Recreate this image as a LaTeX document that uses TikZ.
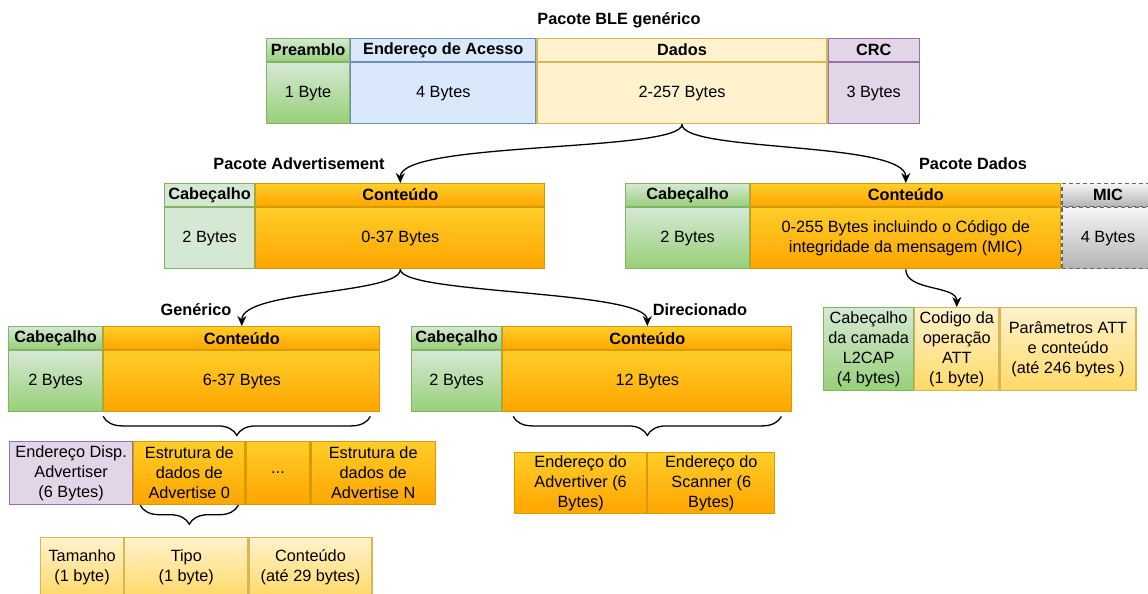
\documentclass[tikz,border=0pt]{standalone}
\usepackage{fontspec}
\setmainfont{Liberation Sans}
\usetikzlibrary{positioning,arrows.meta,decorations.pathreplacing}

\definecolor{verdeA}{HTML}{D5E8D4}
\definecolor{verdeB}{HTML}{97D077}
\definecolor{verdeL}{HTML}{82B366}
\definecolor{azulA}{HTML}{DAE8FC}
\definecolor{azulL}{HTML}{6C8EBF}
\definecolor{amarA}{HTML}{FFF2CC}
\definecolor{amarB}{HTML}{FFD966}
\definecolor{amarL}{HTML}{D6B656}
\definecolor{roxoA}{HTML}{E1D5E7}
\definecolor{roxoL}{HTML}{9673A6}
\definecolor{larA}{HTML}{FFCD28}
\definecolor{larB}{HTML}{FFA500}
\definecolor{larL}{HTML}{D79B00}
\definecolor{cinzaA}{HTML}{F5F5F5}
\definecolor{cinzaB}{HTML}{B3B3B3}
\definecolor{cinzaL}{HTML}{666666}

\begin{document}
\begin{tikzpicture}[
    x=1pt, y=-1pt,
    font=\fontsize{16.3}{20}\selectfont,
    campo/.style = {draw, rectangle, inner sep=1pt, align=center, line width=1.2pt},
    cab/.style = {campo, minimum height=23pt, font=\fontsize{16.3}{20}\selectfont\bfseries},
    corpo/.style = {campo, minimum height=61pt},
    titulo/.style = {font=\fontsize{16.3}{20}\selectfont\bfseries, inner sep=1pt},
    verde/.style = {draw=verdeL, top color=verdeA, bottom color=verdeB},
    verdeclaro/.style = {draw=verdeL, fill=verdeA},
    azul/.style = {draw=azulL, fill=azulA},
    amarelo/.style = {draw=amarL, fill=amarA},
    creme/.style = {draw=amarL, top color=amarA, bottom color=amarB},
    roxo/.style = {draw=roxoL, fill=roxoA},
    laranja/.style = {draw=larL, top color=larA, bottom color=larB},
    cinza/.style = {draw=cinzaL, top color=cinzaA, bottom color=cinzaB, dash pattern=on 4pt off 3pt},
    seta/.style = {-{Stealth[length=10pt, width=9pt]}, line width=1.3pt},
    chave/.style = {decorate, decoration={brace, mirror, amplitude=19pt}, line width=1.3pt}
]
    \useasboundingbox (0,0) rectangle (1148,594);

    % --- Pacote BLE generico ---
    \node[titulo] (tBLE) at (619,20) {Pacote BLE genérico};
    \node[cab, verde, minimum width=83pt, anchor=north west] (preC) at (266,38) {Preamblo};
    \node[cab, azul, minimum width=185pt, right=0pt of preC] (aceC) {Endereço de Acesso};
    \node[cab, amarelo, minimum width=290pt, right=0pt of aceC] (dadC) {Dados};
    \node[cab, roxo, minimum width=91pt, right=0pt of dadC] (crcC) {CRC};
    \node[corpo, verde, minimum width=83pt, below=0pt of preC] (preB) {1 Byte};
    \node[corpo, azul, minimum width=185pt, below=0pt of aceC] (aceB) {4 Bytes};
    \node[corpo, amarelo, minimum width=290pt, below=0pt of dadC] (dadB) {2-257 Bytes};
    \node[corpo, roxo, minimum width=91pt, below=0pt of crcC] (crcB) {3 Bytes};

    % --- Pacote Advertisement ---
    \node[titulo] (tAdv) at (299,164) {Pacote Advertisement};
    \node[cab, verdeclaro, minimum width=90pt, anchor=north west] (advH1) at (164,183) {Cabeçalho};
    \node[cab, laranja, minimum width=289pt, right=0pt of advH1] (advH2) {Conteúdo};
    \node[corpo, verdeclaro, minimum width=90pt, below=0pt of advH1] (advB1) {2 Bytes};
    \node[corpo, laranja, minimum width=289pt, below=0pt of advH2] (advB2) {0-37 Bytes};

    % --- Pacote Dados ---
    \node[titulo] (tDat) at (973,164) {Pacote Dados};
    \node[cab, verde, minimum width=124pt, anchor=north west] (datH1) at (625,183) {Cabeçalho};
    \node[cab, laranja, minimum width=310pt, right=0pt of datH1] (datH2) {Conteúdo};
    \node[cab, cinza, minimum width=92pt, right=0pt of datH2] (micH) {MIC};
    \node[corpo, verde, minimum width=124pt, below=0pt of datH1] (datB1) {2 Bytes};
    \node[corpo, laranja, minimum width=310pt, below=0pt of datH2] (datB2) {0-255 Bytes incluindo o Código de\\integridade da mensagem (MIC)};
    \node[corpo, cinza, minimum width=92pt, below=0pt of micH] (micB) {4 Bytes};

    \draw[seta] (dadB.south) .. controls +(0,28) and +(0,-42) .. (advH2.north);
    \draw[seta] (dadB.south) .. controls +(0,28) and +(0,-42) .. (datH2.north);

    % --- Generico ---
    \node[titulo] (tGen) at (196,310) {Genérico};
    \node[cab, verde, minimum width=94pt, anchor=north west] (genH1) at (8,326) {Cabeçalho};
    \node[cab, laranja, minimum width=276pt, right=0pt of genH1] (genH2) {Conteúdo};
    \node[corpo, verde, minimum width=94pt, below=0pt of genH1] (genB1) {2 Bytes};
    \node[corpo, laranja, minimum width=276pt, below=0pt of genH2] (genB2) {6-37 Bytes};

    % --- Direcionado ---
    \node[titulo] (tDir) at (700,310) {Direcionado};
    \node[cab, verde, minimum width=90pt, anchor=north west] (dirH1) at (411,326) {Cabeçalho};
    \node[cab, laranja, minimum width=289pt, right=0pt of dirH1] (dirH2) {Conteúdo};
    \node[corpo, verde, minimum width=90pt, below=0pt of dirH1] (dirB1) {2 Bytes};
    \node[corpo, laranja, minimum width=289pt, below=0pt of dirH2] (dirB2) {12 Bytes};

    \draw[seta] (advB2.south) .. controls +(0,25) and +(0,-36) .. (genH2.north);
    \draw[seta] (advB2.south) .. controls +(0,25) and +(0,-36) .. (dirH2.north);

    % --- Conteudo do generico ---
    \node[corpo, roxo, minimum width=123pt, minimum height=63pt, anchor=north west] (endDisp) at (9,441) {Endereço Disp.\\Advertiser\\(6 Bytes)};
    \node[corpo, laranja, minimum width=111pt, minimum height=63pt, right=0pt of endDisp] (est0) {Estrutura de\\dados de\\Advertise 0};
    \node[corpo, laranja, minimum width=64pt, minimum height=63pt, right=0pt of est0] (pts) {...};
    \node[corpo, laranja, minimum width=124pt, minimum height=63pt, right=0pt of pts] (estN) {Estrutura de\\dados de\\Advertise N};
    \draw[chave] ([yshift=-4pt]genB2.south west) -- ([xshift=-10pt, yshift=-4pt]genB2.south east);

    \node[corpo, creme, minimum width=83pt, minimum height=60pt, anchor=north west] (tam) at (40,537) {Tamanho\\(1 byte)};
    \node[corpo, creme, minimum width=123pt, minimum height=60pt, right=0pt of tam] (tipo) {Tipo\\(1 byte)};
    \node[corpo, creme, minimum width=123pt, minimum height=60pt, right=0pt of tipo] (cont) {Conteúdo\\(até 29 bytes)};
    \draw[chave] ([xshift=7pt]est0.south west) -- ([xshift=-7pt]est0.south east);

    % --- Conteudo do direcionado ---
    \node[corpo, laranja, minimum width=132pt, anchor=north west] (endAdv) at (514,452) {Endereço do\\Advertiver (6\\Bytes)};
    \node[corpo, laranja, minimum width=127pt, right=0pt of endAdv] (endScn) {Endereço do\\Scanner (6\\Bytes)};
    \draw[chave] ([xshift=11pt, yshift=-4pt]dirB2.south west) -- ([xshift=-11pt, yshift=-4pt]dirB2.south east);

    % --- Conteudo do pacote de dados ---
    \node[corpo, verde, minimum width=90pt, minimum height=83pt, anchor=north west] (l2cap) at (823,307) {Cabeçalho\\da camada\\L2CAP\\(4 bytes)};
    \node[corpo, creme, minimum width=84pt, minimum height=83pt, right=0pt of l2cap] (opATT) {Codigo da\\operação\\ATT\\(1 byte)};
    \node[corpo, creme, minimum width=136pt, minimum height=83pt, right=0pt of opATT] (parATT) {Parâmetros ATT\\e conteúdo\\(até 246 bytes )};

    \draw[seta] (datB2.south) .. controls +(0,22) and +(0,-22) .. (opATT.north);
\end{tikzpicture}
\end{document}
